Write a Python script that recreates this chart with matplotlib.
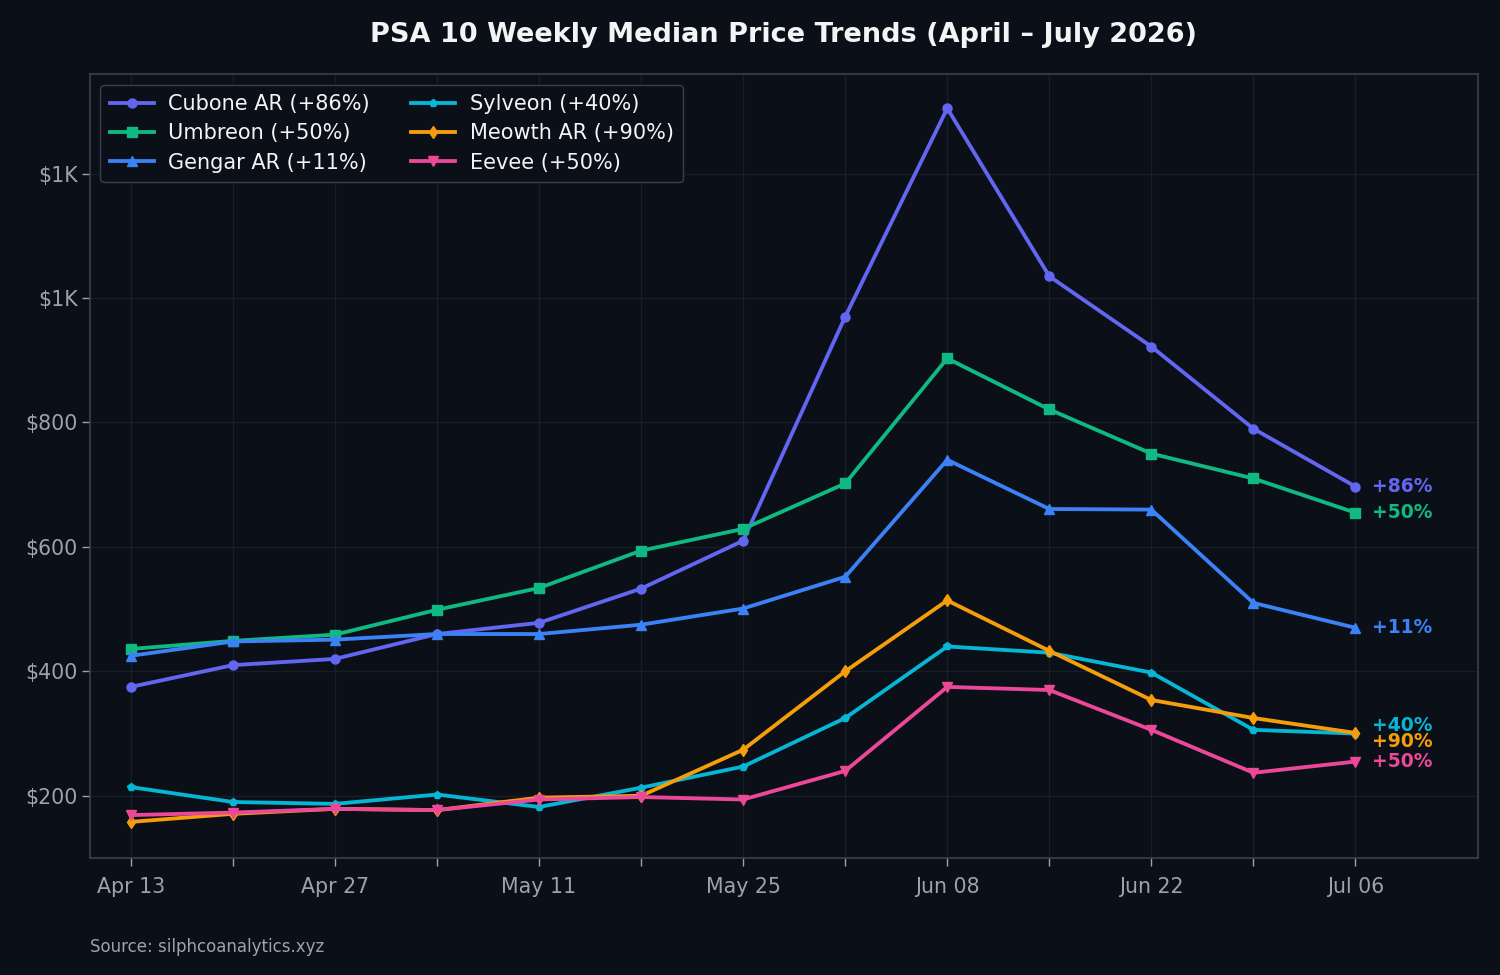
import matplotlib
matplotlib.use("Agg")
import matplotlib.pyplot as plt
import matplotlib.dates as mdates
from matplotlib.ticker import FuncFormatter, FixedLocator
import numpy as np
import datetime as dt

weeks = ["2026-04-13", "2026-04-20", "2026-04-27", "2026-05-04", "2026-05-11", "2026-05-18",
         "2026-05-25", "2026-06-01", "2026-06-08", "2026-06-15", "2026-06-22", "2026-06-29",
         "2026-07-06"]

cubone = [375, 410, 420, 460, 478, 533, 610, 970, 1305, 1035, 922, 790, 697]
umbreon = [436, 449, 459, 499, 534, 594, 629, 702, 903, 821, 750, 710, 655]
gengar = [425, 448, 451, 460, 460, 475, 501, 552, 740, 661, 660, 510, 470]
sylveon = [214, 190, 187, 202, 182, 213, 247, 325, 440, 430, 398, 306, 300]
meowth = [158, 171, 179, 177, 197, 200, 274, 400, 514, 433, 354, 325, 301]
eevee = [169, 173, 179, 177, 194, 198, 194, 240, 375, 370, 306, 237, 255]

names = ["Cubone AR", "Umbreon", "Gengar AR", "Sylveon", "Meowth AR", "Eevee"]
changes = ["+86%", "+50%", "+11%", "+40%", "+90%", "+50%"]
series = [cubone, umbreon, gengar, sylveon, meowth, eevee]
colors = ["#6366F1", "#10B981", "#3B82F6", "#06B6D4", "#F59E0B", "#EC4899"]
markers = ["o", "s", "^", "p", "d", "v"]
msizes = [6.5, 6.5, 6.5, 5.5, 6.5, 6.5]
label_offsets = [0, 0, 0, 6, -6, 0]  # points, to avoid overlap

bg = "#0B0F17"
fig = plt.figure(figsize=(15, 9.75), dpi=100, facecolor=bg)
ax = fig.add_axes([0.06, 0.12, 0.9253, 0.804])
ax.set_facecolor(bg)

dates = [dt.datetime.strptime(d, "%Y-%m-%d") for d in weeks]
for name, ch, ys, c, m, ms in zip(names, changes, series, colors, markers, msizes):
    ax.plot(dates, ys, color=c, marker=m, markersize=ms, linewidth=2.75,
            label=f"{name} ({ch})", zorder=3)

for ch, ys, c, off in zip(changes, series, colors, label_offsets):
    ax.annotate(ch, xy=(dates[-1], ys[-1]), xytext=(12, off), textcoords="offset points",
                color=c, fontsize=13.5, fontweight="bold", va="center", ha="left")

ax.set_xlim(dates[0] - dt.timedelta(days=2.8), dates[-1] + dt.timedelta(days=8.4))
ax.set_ylim(100, 1360)

xnums = mdates.date2num(dates)
ax.xaxis.set_major_locator(FixedLocator(xnums))
ax.set_xticklabels([d.strftime("%b %d") if i % 2 == 0 else "" for i, d in enumerate(dates)])
ax.yaxis.set_major_locator(FixedLocator([200, 400, 600, 800, 1000, 1200]))
ax.yaxis.set_major_formatter(FuncFormatter(
    lambda v, p: f"${v/1000:.0f}K" if v >= 1000 else f"${v:.0f}"))

ax.tick_params(colors="#9CA3AF", labelsize=14.8, length=5.5, width=1)
ax.tick_params(axis="x", pad=8)
ax.grid(True, color="#1F2937", alpha=0.6, linewidth=1)
ax.set_axisbelow(True)
for s in ax.spines.values():
    s.set_color("#374151")
    s.set_linewidth(1.2)

leg = ax.legend(loc="upper left", ncol=2, fontsize=15, facecolor=bg, edgecolor="#374151",
                labelcolor="#F3F4F6", framealpha=1, columnspacing=2.0, handlelength=2.1,
                handletextpad=0.7, borderpad=0.45, labelspacing=0.45, borderaxespad=0.5)

fig.text(0.06 + 0.9253 / 2, 0.964, "PSA 10 Weekly Median Price Trends (April – July 2026)",
         color="#F3F4F6", fontsize=19.5, fontweight="bold", ha="center", va="center")
fig.text(0.06, 0.029, "Source: silphcoanalytics.xyz", color="#9CA3AF", fontsize=12, va="center")

fig.savefig("out.png", dpi=100, facecolor=bg)
